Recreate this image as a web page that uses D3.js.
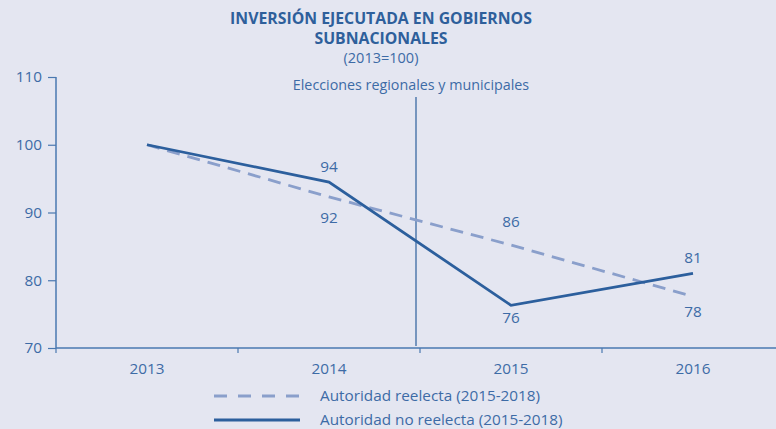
<!DOCTYPE html>
<html>
  <head>
    <script src="https://cdn.jsdelivr.net/npm/d3@7"></script>
    <style>
      body { margin: 0; background: #e4e6f1; }
      text { font-family: "Open Sans", "Noto Sans", sans-serif; }
    </style>
  </head>
  <body>
    <svg id="chart" width="776" height="429"></svg>
    <script>
      var years = ["2013", "2014", "2015", "2016"];
      var reelecta = [100, 92.3, 85.2, 77.6];
      var noReelecta = [100, 94.5, 76.3, 81.0];
      var reelectaLabels = [null, "92", "86", "78"];
      var noReelectaLabels = [null, "94", "76", "81"];
      var yTicks = [70, 80, 90, 100, 110];

      var blue = "#2c5f9d", light = "#8a9fcb", txt = "#3d6ba6";
      var svg = d3.select("#chart");

      var x = d3.scaleBand().domain(years).range([56, 784]);
      var y = d3.scaleLinear().domain([70, 110]).range([348, 77]);
      var cx = d => x(d) + x.bandwidth() / 2;

      // title
      var title = svg.append("g").attr("fill", "#2e5f9b").attr("text-anchor", "middle");
      title.append("text").attr("x", 381).attr("y", 24).attr("font-size", 15.8).attr("font-weight", "bold")
        .text("INVERSIÓN EJECUTADA EN GOBIERNOS");
      title.append("text").attr("x", 381).attr("y", 44).attr("font-size", 15.8).attr("font-weight", "bold")
        .text("SUBNACIONALES");
      title.append("text").attr("x", 381).attr("y", 63).attr("font-size", 14.5).attr("fill", txt)
        .text("(2013=100)");

      // axes
      var yAxis = svg.append("g").attr("transform", "translate(56,0)")
        .call(d3.axisLeft(y).tickValues(yTicks).tickSize(8).tickPadding(6));
      var xAxis = svg.append("g").attr("transform", "translate(0,348)")
        .call(d3.axisBottom(x).tickSize(0).tickPadding(15));
      xAxis.selectAll(".tick").attr("transform", d => `translate(${cx(d)},0)`);
      xAxis.append("g").selectAll("line").data(years).enter().append("line")
        .attr("x1", d => x(d)).attr("x2", d => x(d)).attr("y1", 0).attr("y2", 5)
        .attr("stroke", "#4a78b0").attr("stroke-width", 1.2);
      [yAxis, xAxis].forEach(a => {
        a.selectAll(".domain").attr("stroke", "#4a78b0").attr("stroke-width", 1.5);
        a.selectAll(".tick line").attr("stroke", "#4a78b0").attr("stroke-width", 1.2);
        a.selectAll("text").attr("fill", txt).attr("font-size", 15.3)
          .attr("font-family", "'Open Sans', 'Noto Sans', sans-serif");
      });
      yAxis.select(".domain").attr("d", "M0,77V348");
      xAxis.select(".domain").attr("d", "M56,0H776");

      // election marker
      svg.append("line").attr("x1", 416).attr("x2", 416).attr("y1", 97).attr("y2", 346)
        .attr("stroke", blue).attr("stroke-width", 1.2);
      svg.append("text").attr("x", 411).attr("y", 90).attr("text-anchor", "middle")
        .attr("font-size", 14.3).attr("fill", txt).text("Elecciones regionales y municipales");

      var line = d3.line().x((d, i) => cx(years[i])).y(d => y(d));

      svg.append("path").attr("d", line(reelecta)).attr("fill", "none")
        .attr("stroke", light).attr("stroke-width", 2.8).attr("stroke-dasharray", "13,8");
      svg.append("path").attr("d", line(noReelecta)).attr("fill", "none")
        .attr("stroke", blue).attr("stroke-width", 2.8);

      // value labels: dashed below the point except 2015; solid above except 2015
      var lbls = [];
      var dyR = [0, 26, -18, 20], dyN = [0, -10, 18, -10];
      years.forEach((yr, i) => {
        if (reelectaLabels[i]) lbls.push({yr: yr, t: reelectaLabels[i], v: reelecta[i], dy: dyR[i]});
        if (noReelectaLabels[i]) lbls.push({yr: yr, t: noReelectaLabels[i], v: noReelecta[i], dy: dyN[i]});
      });
      svg.append("g").attr("fill", txt).attr("font-size", 15.3).attr("text-anchor", "middle")
        .selectAll("text").data(lbls).enter().append("text")
        .attr("x", d => cx(d.yr))
        .attr("y", d => y(d.v) + d.dy)
        .text(d => d.t);

      // legend
      var legend = svg.append("g");
      var items = [
        {name: "Autoridad reelecta (2015-2018)", color: light, dash: "13,11"},
        {name: "Autoridad no reelecta (2015-2018)", color: blue, dash: null}
      ];
      items.forEach((it, i) => {
        var yy = 396 + i * 24;
        legend.append("line").attr("x1", 214).attr("x2", 300).attr("y1", yy).attr("y2", yy)
          .attr("stroke", it.color).attr("stroke-width", 2.8).attr("stroke-dasharray", it.dash);
        legend.append("text").attr("x", 320).attr("y", yy + 5).attr("font-size", 15.3)
          .attr("fill", txt).text(it.name);
      });
    </script>
  </body>
</html>
